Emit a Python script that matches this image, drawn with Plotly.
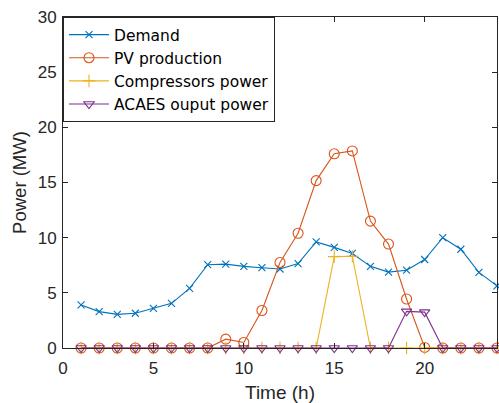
import plotly.graph_objects as go

hours = list(range(1, 25))
demand = [3.9, 3.3, 3.05, 3.15, 3.6, 4.05, 5.4, 7.55, 7.6, 7.4, 7.28, 7.16,
          7.65, 9.62, 9.12, 8.57, 7.4, 6.88, 7.05, 8.02, 10.0, 8.95, 6.85, 5.63]
pv = [0, 0, 0, 0, 0, 0, 0, 0, 0.8, 0.5, 3.4, 7.75,
      10.4, 15.17, 17.6, 17.86, 11.5, 9.42, 4.44, 0.05, 0, 0, 0, 0]
compressors = [0, 0, 0, 0, 0, 0, 0, 0, 0, 0, 0, 0,
               0, 0, 8.28, 8.32, 0, 0, 0, 0, 0, 0, 0, 0]
acaes = [0, 0, 0, 0, 0, 0, 0, 0, 0, 0, 0, 0,
         0, 0, 0, 0, 0, 0, 3.32, 3.25, 0, 0, 0, 0]

names = ["Demand", "PV production", "Compressors power", "ACAES ouput power"]
colors = ["#0072BD", "#D95319", "#EDB120", "#7E2F8E"]
symbols = ["x-thin-open", "circle-open", "cross-thin-open", "triangle-down-open"]
sizes = [7, 10, 9, 9]
series = [demand, pv, compressors, acaes]

FONT = "Liberation Sans, Arial, sans-serif"
TXT = "#262626"

fig = go.Figure()
for name, col, sym, sz, vals in zip(names, colors, symbols, sizes, series):
    fig.add_trace(go.Scatter(
        x=hours, y=vals, name=name, mode="lines+markers",
        line=dict(color=col, width=1.1),
        marker=dict(symbol=sym, size=sz, color=col, line=dict(color=col, width=1.1)),
        cliponaxis=False,
    ))

axis_common = dict(
    showgrid=False, zeroline=False, showline=True, linecolor=TXT, linewidth=1,
    mirror="allticks", ticks="inside", ticklen=5, tickcolor=TXT, tickwidth=1,
    tickfont=dict(family=FONT, size=17, color=TXT),
)

fig.update_layout(
    width=499, height=403,
    margin=dict(l=63, r=2, t=17, b=55),
    paper_bgcolor="white", plot_bgcolor="white",
    font=dict(family=FONT, color=TXT),
    xaxis=dict(range=[0, 24], tickvals=[0, 5, 10, 15, 20], ticklabelstandoff=5,
               title=dict(text="Time (h)", font=dict(family=FONT, size=19, color=TXT), standoff=8),
               **axis_common),
    yaxis=dict(range=[0, 30], tickvals=[0, 5, 10, 15, 20, 25, 30], ticklabelstandoff=2,
               title=dict(text="Power (MW)", font=dict(family=FONT, size=18.5, color=TXT), standoff=6),
               **axis_common),
    legend=dict(x=0, y=1, xanchor="left", yanchor="top",
                bgcolor="white", bordercolor="#262626", borderwidth=1,
                font=dict(family="DejaVu Sans", size=15.5, color="#000000"),
                tracegroupgap=0, itemwidth=40),
    showlegend=True,
)

fig.write_html("out.html")
